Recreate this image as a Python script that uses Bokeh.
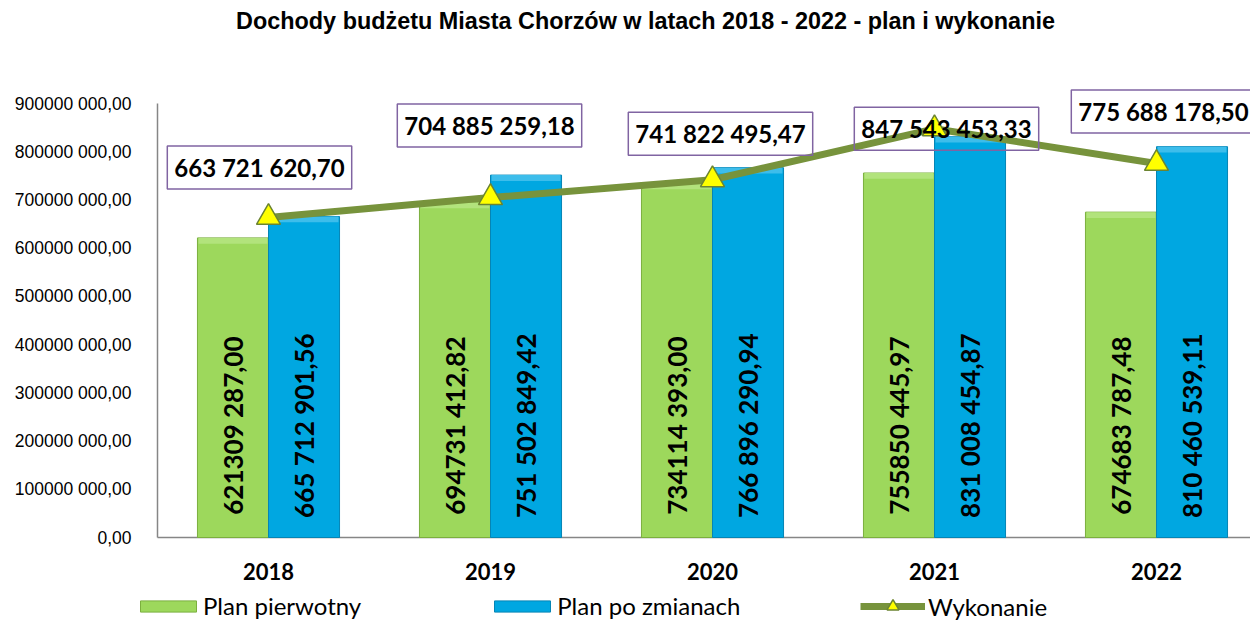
import numpy as np
from bokeh.plotting import figure
from bokeh.models import Label, Legend, LegendItem, Range1d
from bokeh.core.properties import value
from bokeh.embed import file_html
from bokeh.resources import INLINE

# ---------------- data ----------------
years = ["2018", "2019", "2020", "2021", "2022"]
plan_pierwotny = [621309287.00, 694731412.82, 734114393.00, 755850445.97, 674683787.48]
plan_po_zmianach = [665712901.56, 751502849.42, 766896290.94, 831008454.87, 810460539.11]
wykonanie = [663721620.70, 704885259.18, 741822495.47, 847543453.33, 775688178.50]
y_ticks = [0, 100e6, 200e6, 300e6, 400e6, 500e6, 600e6, 700e6, 800e6, 900e6]
y_tick_labels = ["0,00", "100000 000,00", "200000 000,00", "300000 000,00",
                 "400000 000,00", "500000 000,00", "600000 000,00", "700000 000,00",
                 "800000 000,00", "900000 000,00"]
title_text = "Dochody budżetu Miasta Chorzów w latach 2018 - 2022 - plan i wykonanie"


def split_amount(v):
    s = f"{v:.2f}"
    ip, dp = s.split(".")
    return ip, dp


def fmt_full(v):
    ip, dp = split_amount(v)
    groups = []
    while len(ip) > 3:
        groups.insert(0, ip[-3:])
        ip = ip[:-3]
    groups.insert(0, ip)
    return " ".join(groups) + "," + dp


def fmt_short(v):
    ip, dp = split_amount(v)
    return ip[:-3] + " " + ip[-3:] + "," + dp


# ---------------- style / layout ----------------
GREEN = "#9DD85C"
GREEN_TOP = "#B2E37C"
GREEN_EDGE = "#7BAF3E"
BLUE = "#00A7E1"
BLUE_TOP = "#3DBDEB"
BLUE_EDGE = "#0585B5"
OLIVE = "#77933C"
PURPLE = "#8064A2"
AXIS = "#868686"
BAR_W = 0.32
LABEL_Y = 232e6
CAP = 12e6
box_offsets = [(-9, 50), (-1, 72), (8, 46), (12, 0), (7, 52)]

W, H = 1250, 620
AX_X, AX_Y = 157, 537          # pixel position of the axes origin
PX_PER_CAT = 222
PX_PER_UNIT = 434 / 900e6

xs = np.arange(len(years))
xg = xs - BAR_W / 2
xb = xs + BAR_W / 2

x0 = -0.5
p = figure(width=W, height=H, output_backend="svg", toolbar_location=None,
           x_axis_location=None, y_axis_location=None,
           x_range=Range1d(x0 - AX_X / PX_PER_CAT, x0 + (W - AX_X) / PX_PER_CAT),
           y_range=Range1d(-(H - AX_Y) / PX_PER_UNIT, AX_Y / PX_PER_UNIT),
           min_border=0, min_border_left=0, min_border_right=0,
           min_border_top=0, min_border_bottom=0)
p.outline_line_color = None
p.grid.visible = False
p.background_fill_color = "white"
p.border_fill_color = "white"

# axes (drawn through the data scales)
p.segment(x0=[x0], y0=[0], x1=[x0], y1=[y_ticks[-1]], line_color=AXIS, line_width=1.5)
p.segment(x0=[x0], y0=[0], x1=[p.x_range.end], y1=[0], line_color=AXIS, line_width=1.5)
p.text(x=[x0] * len(y_ticks), y=y_ticks, text=y_tick_labels, x_offset=-26,
       text_align="right", text_baseline="middle", text_font=value("Liberation Sans"),
       text_font_size="17.5px", text_color="black")
p.text(x=xs, y=[0] * len(xs), text=years, y_offset=34,
       text_align="center", text_baseline="middle", text_font=value("Lato"),
       text_font_style="bold", text_font_size="22px", text_color="black")

# bars
g = p.vbar(x=xg, top=plan_pierwotny, width=BAR_W, fill_color=GREEN, line_color=GREEN_EDGE, line_width=1)
b = p.vbar(x=xb, top=plan_po_zmianach, width=BAR_W, fill_color=BLUE, line_color=BLUE_EDGE, line_width=1)
p.vbar(x=xg, top=plan_pierwotny, bottom=[v - CAP for v in plan_pierwotny], width=BAR_W * 0.97,
       fill_color=GREEN_TOP, line_color=None)
p.vbar(x=xb, top=plan_po_zmianach, bottom=[v - CAP for v in plan_po_zmianach], width=BAR_W * 0.97,
       fill_color=BLUE_TOP, line_color=None)

# bar labels
p.text(x=xg, y=[LABEL_Y] * len(xs), text=[fmt_short(v) for v in plan_pierwotny], angle=np.pi / 2,
       text_align="center", text_baseline="middle", text_font=value("Lato"),
       text_font_style="bold", text_font_size="26px", text_color="black")
p.text(x=xb, y=[LABEL_Y] * len(xs), text=[fmt_full(v) for v in plan_po_zmianach], angle=np.pi / 2,
       text_align="center", text_baseline="middle", text_font=value("Lato"),
       text_font_style="bold", text_font_size="26px", text_color="black")

# line
ln = p.line(x=xs, y=wykonanie, line_color=OLIVE, line_width=7)
mk = p.scatter(x=xs, y=wykonanie, marker="triangle", size=24, fill_color="#FFFF00",
               line_color="#6B8432", line_width=1.5)

for i, v in enumerate(wykonanie):
    dx, dy = box_offsets[i]
    p.add_layout(Label(x=xs[i], y=v, x_offset=dx, y_offset=dy, text=fmt_full(v),
                       text_align="center", text_baseline="middle", text_font="Lato",
                       text_font_style="bold", text_font_size="24px", text_color="black",
                       border_line_color=PURPLE, border_line_width=1.5,
                       background_fill_alpha=0, padding=7))

# title
p.add_layout(Label(x=645, y=H - 20, x_units="screen", y_units="screen", text=title_text,
                   text_align="center", text_baseline="middle", text_font="Liberation Sans",
                   text_font_style="bold", text_font_size="23.4px", text_color="black"))

# legends
leg1 = Legend(items=[LegendItem(label="Plan pierwotny", renderers=[g]),
                     LegendItem(label="Plan po zmianach", renderers=[b])],
              orientation="horizontal", location=(133, 0), spacing=126,
              glyph_width=70, glyph_height=14, label_standoff=0, padding=0, margin=0,
              border_line_alpha=0, background_fill_alpha=0,
              label_text_font="Lato", label_text_font_size="24px", label_text_color="black")
leg2 = Legend(items=[LegendItem(label="Wykonanie", renderers=[ln, mk])],
              orientation="horizontal", location=(860, -1), spacing=0,
              glyph_width=65, glyph_height=30, label_standoff=3, padding=0, margin=0,
              border_line_alpha=0, background_fill_alpha=0,
              label_text_font="Lato", label_text_font_size="24px", label_text_color="black")
p.add_layout(leg1)
p.add_layout(leg2)

open("out.html", "w").write(file_html(p, INLINE))
